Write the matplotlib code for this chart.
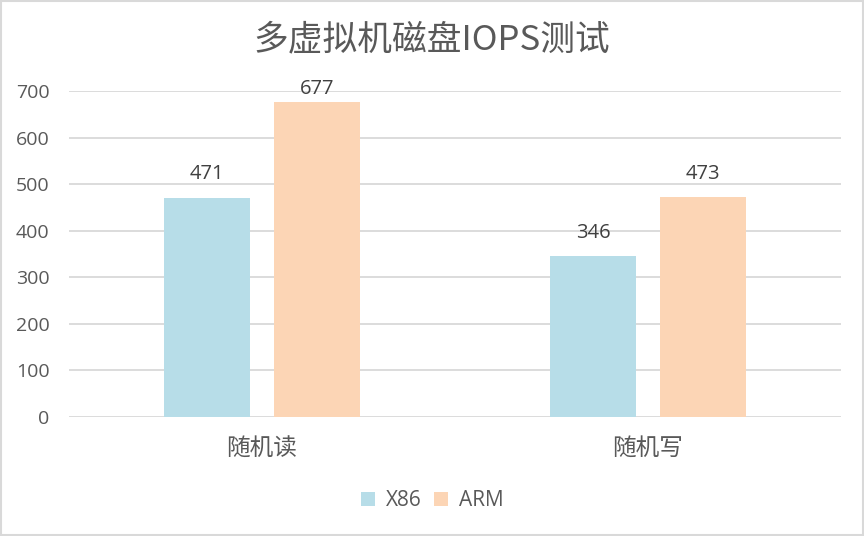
import numpy as np
import matplotlib
matplotlib.use('Agg')
from matplotlib import pyplot as plt
from matplotlib.patches import Rectangle

plt.rcParams['font.family'] = ['Noto Sans CJK SC', 'DejaVu Sans']
num_font = ['Open Sans', 'Noto Sans CJK SC']

# 数据
categories = ['随机读', '随机写']
series_names = ['X86', 'ARM']
x86_values = [471, 346]
arm_values = [677, 473]
yticks = [0, 100, 200, 300, 400, 500, 600, 700]

colors = ['#B7DDE8', '#FCD5B5']
text_color = '#595959'
grid_color = '#D9D9D9'

fig = plt.figure(figsize=(8.64, 5.36), dpi=100)
ax = fig.add_axes([69 / 864, 119 / 536, 772 / 864, 326 / 536])

x = np.arange(len(categories))
w = 0.225
off = 0.1425
bars1 = ax.bar(x - off, x86_values, w, color=colors[0], label=series_names[0], zorder=3)
bars2 = ax.bar(x + off, arm_values, w, color=colors[1], label=series_names[1], zorder=3)

# 数据标签，顶部的标签压在绘图区内
for bars in (bars1, bars2):
    for b in bars:
        h = b.get_height()
        ax.text(b.get_x() + b.get_width() / 2, min(h + 39, 693), str(int(h)),
                ha='center', va='baseline', fontsize=14.5, color='#404040', family=num_font)

ax.set_xlim(-0.5, 1.5)
ax.set_ylim(0, 700)
ax.set_yticks(yticks)
ax.set_yticklabels([str(v) for v in yticks], family=num_font)
ax.set_xticks(x)
ax.set_xticklabels(categories, fontsize=17, color=text_color)
ax.tick_params(axis='y', labelsize=14, colors=text_color, length=0, pad=14)
ax.tick_params(axis='x', length=0, pad=14)
ax.grid(axis='y', color=grid_color, linewidth=1.3, zorder=0)
for s in ax.spines.values():
    s.set_visible(False)

fig.text(0.5, 0.925, '多虚拟机磁盘IOPS测试', ha='center', va='center',
         fontsize=25, color=text_color, fontweight='light')

leg = fig.legend(loc='center', bbox_to_anchor=(0.5, 0.066), ncol=2, frameon=False,
                 prop={'family': num_font, 'size': 15}, handlelength=0.7, handleheight=0.7,
                 handletextpad=0.5, columnspacing=0.6, labelcolor=text_color)

# 外框
fig.patches.append(Rectangle((0.001, 0.001), 0.998, 0.997, transform=fig.transFigure,
                             fill=False, edgecolor=grid_color, linewidth=1.5))

plt.savefig('out.png', dpi=100)
